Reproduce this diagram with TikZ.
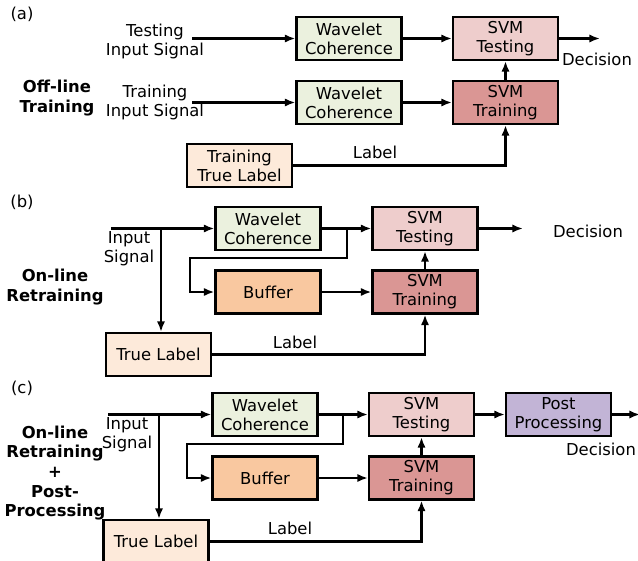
\documentclass[tikz,border=0pt]{standalone}
\usepackage{fontspec}
\setmainfont{DejaVu Sans}
\usepackage{xcolor}
\usetikzlibrary{arrows.meta, positioning, calc}

\definecolor{wcgreen}{HTML}{EBF1DE}
\definecolor{testpink}{HTML}{EECDCC}
\definecolor{trainred}{HTML}{DA9694}
\definecolor{bufforange}{HTML}{F9C8A0}
\definecolor{labelpeach}{HTML}{FDEADA}
\definecolor{postpurple}{HTML}{C2B4D6}

\tikzset{
  blk/.style={draw, line width=1.8pt, minimum width=3.15cm, minimum height=1.29cm, inner sep=0pt, align=center},
  txt/.style={align=center, inner sep=0pt},
  bold/.style={txt, font=\fontsize{14}{16.8}\selectfont\bfseries},
  arr/.style={-{Latex[length=9pt,width=7pt]}, line width=1.8pt},
  ln/.style={line width=1.8pt}
}

\begin{document}
\begin{tikzpicture}[x=0.03cm, y=-0.03cm, every node/.append style={font=\fontsize{14}{16.2}\selectfont}]
  \useasboundingbox (0,0) rectangle (638,561);

  % (a) off-line training
  \node[txt] (alab) at (22,14) {(a)};
  \node[bold] (atitle) at (57,98) {Off-line\\Training};
  \node[txt] (atin) at (155,41) {Testing\\Input Signal};
  \node[txt] (atrin) at (155,102) {Training\\Input Signal};
  \coordinate (atstart) at (192,38.5);
  \coordinate (atrstart) at (192,102.5);
  \node[blk, fill=wcgreen] (awc1) at (349,38.5) {Wavelet\\Coherence};
  \node[blk, fill=wcgreen] (awc2) at (349,102.5) {Wavelet\\Coherence};
  \node[blk, fill=testpink] (atest) at (505.5,38.5) {SVM\\Testing};
  \node[blk, fill=trainred] (atrain) at (505.5,102.5) {SVM\\Training};
  \node[blk, fill=labelpeach] (atl) at (239.5,165.5) {Training\\True Label};
  \coordinate (adec) at (600,38.5);
  \node[txt] (adect) at (597,59) {Decision};
  \node[txt] (albl) at (375,152) {Label};
  \draw[arr] (atstart) -- (awc1);
  \draw[arr] (atrstart) -- (awc2);
  \draw[arr] (awc1) -- (atest);
  \draw[arr] (awc2) -- (atrain);
  \draw[arr] (atrain) -- (atest);
  \draw[arr] (atest) -- (adec);
  \draw[arr] (atl.east) -| (atrain.south);

  % (b) on-line retraining
  \node[txt] (blab) at (22,202) {(b)};
  \node[bold] (btitle) at (55,287) {On-line\\Retraining};
  \node[txt] (bin) at (129,249) {Input\\Signal};
  \coordinate (bstart) at (111,228.5);
  \coordinate (bsplit) at (161,228.5);
  \node[blk, fill=wcgreen] (bwc) at (268,228.5) {Wavelet\\Coherence};
  \node[blk, fill=bufforange] (bbuf) at (268,292) {Buffer};
  \node[blk, fill=testpink] (btest) at (425,228.5) {SVM\\Testing};
  \node[blk, fill=trainred] (btrain) at (425,292) {SVM\\Training};
  \node[blk, fill=labelpeach] (btl) at (158.5,354.5) {True Label};
  \coordinate (bjoin) at (347,228.5);
  \coordinate (bturn) at (190,258);
  \coordinate (bdec) at (523,228.5);
  \node[txt] (bdect) at (588,231) {Decision};
  \node[txt] (blbl) at (295,342) {Label};
  \draw[arr] (bstart) -- (bwc);
  \draw[arr] (bsplit) -- (bsplit |- btl.north);
  \draw[arr] (bwc) -- (btest);
  \draw[arr] (bjoin) |- (bturn) |- (bbuf.west);
  \draw[arr] (bbuf) -- (btrain);
  \draw[arr] (btrain) -- (btest);
  \draw[arr] (btest) -- (bdec);
  \draw[arr] (btl.east) -| (btrain.south);

  % (c) on-line retraining + post-processing
  \node[txt] (clab) at (22,388) {(c)};
  \node[bold] (ctitle) at (55,473) {On-line\\Retraining\\+\\Post-\\Processing};
  \node[txt] (cin) at (127,435) {Input\\Signal};
  \coordinate (cstart) at (108,414.5);
  \coordinate (csplit) at (159,414.5);
  \node[blk, fill=wcgreen] (cwc) at (265,414.5) {Wavelet\\Coherence};
  \node[blk, fill=bufforange] (cbuf) at (265,478) {Buffer};
  \node[blk, fill=testpink] (ctest) at (421.5,414.5) {SVM\\Testing};
  \node[blk, fill=trainred] (ctrain) at (421.5,478) {SVM\\Training};
  \node[blk, fill=postpurple] (cpost) at (558.5,414.5) {Post\\Processing};
  \node[blk, fill=labelpeach] (ctl) at (156,541.5) {True Label};
  \coordinate (cjoin) at (343,414.5);
  \coordinate (cturn) at (187,444);
  \coordinate (cdec) at (640,414.5);
  \node[txt] (cdect) at (601,449) {Decision};
  \node[txt] (clbl) at (290,528) {Label};
  \draw[arr] (cstart) -- (cwc);
  \draw[arr] (csplit) -- (csplit |- ctl.north);
  \draw[arr] (cwc) -- (ctest);
  \draw[arr] (cjoin) |- (cturn) |- (cbuf.west);
  \draw[arr] (cbuf) -- (ctrain);
  \draw[arr] (ctrain) -- (ctest);
  \draw[arr] (ctest) -- (cpost);
  \draw[arr] (cpost) -- (cdec);
  \draw[arr] (ctl.east) -| (ctrain.south);
\end{tikzpicture}
\end{document}
